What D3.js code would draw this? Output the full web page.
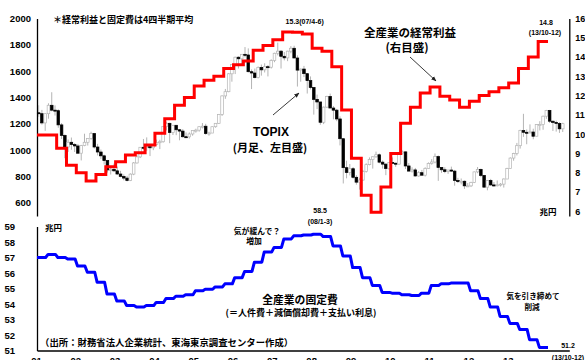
<!DOCTYPE html>
<html><head><meta charset="utf-8">
<script src="https://cdn.jsdelivr.net/npm/d3@7"></script>
<style>
body{margin:0;background:#fff;}
svg{display:block;}
text{font-family:"Noto Sans CJK JP","Liberation Sans",sans-serif;font-weight:700;fill:#000;}
.num{font-family:"Liberation Sans",Arial,sans-serif;font-weight:700;}
</style></head><body>
<svg id="chart" width="585" height="360"></svg>
<script>
// ---- data -------------------------------------------------------------
// x-axis labels (year starts, 2001-2013)
const yearLabels = ["01","02","03","04","05","06","07","08","09","10","11","12","13"];

// quarters 2001 Q1 .. 2013 Q4
const quarters = [];
["01","02","03","04","05","06","07","08","09","10","11","12","13"].forEach(y => ["1-3","4-6","7-9","10-12"].forEach(q => quarters.push(y + "/" + q)));

// all-industry ordinary profit, 4-quarter average (trillion yen, right scale)
const profit = [
  9.95, 9.95, 9.27, 8.39,   8.00, 7.57, 7.91, 8.30,   8.56, 8.91, 9.03, 9.43,
  10.04, 10.80, 11.50, 11.90,  12.50, 12.80, 13.00, 13.40,  13.60, 13.80, 14.35, 14.60,
  14.90, 15.30, 15.28, 15.20,  14.45, 14.30, 13.50, 11.25,  8.75, 6.83, 5.95, 7.25,
  9.00, 10.57, 11.40, 12.13,  12.45, 11.97, 11.77, 11.40,  11.70, 12.00, 12.20, 12.40,
  12.65, 13.40, 14.00, 14.80
];

// all-industry fixed costs, 4-quarter average (trillion yen)
const fixedCost = [
  57.00, 57.20, 57.00, 56.90,  56.45, 56.05, 55.40, 54.65,  54.20, 53.90, 53.80, 53.90,
  54.10, 54.35, 54.50, 54.60,  54.85, 54.95, 55.10, 55.30,  55.70, 56.10, 56.70, 57.35,
  57.65, 58.20, 58.40, 58.45,  58.50, 58.35, 57.75, 57.10,  56.35, 55.70, 55.20, 54.75,
  54.70, 54.60, 54.55, 54.70,  55.20, 55.30, 55.35, 55.35,  54.85, 54.35, 53.80, 53.20,
  52.75, 52.35, 51.70, 51.20
];

// TOPIX monthly candles, Jan 2001 .. May 2014
const topixOpen = [
  1284,1277,1207,1277,1341,1304,1300,1192,1112,1024,1060,1043,
  1032, 977,1035,1060,1088,1126,1024, 986, 957, 921, 850, 854,
   843, 819, 801, 788, 770, 818, 903, 949,1022,1019,1027,1018,
  1044,1057,1064,1179,1204,1134,1189,1155,1145,1102,1101,1123,
  1150,1152,1178,1182,1126,1130,1178,1204,1272,1412,1444,1580,
  1650,1706,1694,1728,1723,1596,1586,1551,1628,1610,1634,1630,
  1681,1736,1752,1713,1701,1752,1774,1700,1608,1616,1581,1528,
  1476,1386,1366,1212,1327,1408,1320,1304,1237,1087, 867, 830,
   859, 794, 757, 773, 838, 890, 929, 950, 965, 909, 894, 860,
   907, 901, 894, 978, 987, 880, 841, 850, 804, 829, 810, 861,
   899, 910, 951, 869, 851, 838, 849, 841, 770, 761, 764, 729,
   729, 755, 835, 854, 808, 719, 770, 736, 731, 737, 742, 781,
   860, 940, 975,1034,1149,1136,1133,1138,1106,1194,1194,1258,
  1302,1220,1211,1203,1162
];
const topixHigh = [
  1341,1306,1280,1356,1440,1340,1310,1206,1120,1081,1096,1054,
  1047,1040,1125,1090,1140,1131,1048,1005, 966, 926, 873, 898,
   875, 843, 816, 805, 824, 910, 963,1023,1085,1097,1035,1047,
  1080,1079,1180,1217,1208,1190,1190,1160,1160,1135,1135,1150,
  1163,1181,1206,1200,1140,1180,1205,1275,1415,1465,1585,1650,
  1710,1713,1730,1783,1773,1613,1620,1636,1650,1660,1646,1690,
  1740,1817,1760,1745,1755,1790,1793,1720,1620,1640,1585,1560,
  1480,1422,1368,1331,1413,1430,1335,1313,1257,1087, 920, 895,
   872, 810, 790, 850, 900, 945, 952, 989, 975, 922, 900, 910,
   945, 905, 980, 998, 990, 902, 870, 865, 840, 850, 870, 907,
   932, 975, 960, 871, 870, 850, 875, 850, 790, 785, 770, 750,
   760, 837, 872, 860, 812, 773, 782, 758, 770, 750, 785, 866,
   945, 980,1055,1155,1276,1157,1196,1163,1195,1220,1262,1306,
  1306,1225,1225,1212,1208
];
const topixLow = [
  1253,1194,1147,1239,1295,1263,1170,1085, 939, 987,1003, 986,
   972, 922,1030,1035,1079,1012, 960, 934, 891, 830, 815, 836,
   811, 794, 771, 763, 765, 810, 898, 940,1004, 995, 955,1000,
  1035,1008,1057,1150,1053,1115,1114,1075,1095,1095,1088,1110,
  1133,1140,1165,1117,1110,1130,1171,1200,1260,1390,1440,1520,
  1578,1620,1640,1705,1590,1464,1545,1545,1566,1590,1560,1620,
  1668,1720,1620,1682,1676,1736,1700,1483,1520,1555,1430,1461,
  1270,1312,1193,1198,1320,1320,1234,1220,1036, 747, 786, 808,
   784, 738, 700, 768, 830, 885, 860, 942, 900, 860, 810, 850,
   899, 873, 889, 965, 857, 840, 830, 800, 799, 806, 800, 860,
   890, 900, 767, 828, 825, 820, 835, 730, 750, 740, 706, 720,
   720, 750, 825, 795, 719, 695, 729, 721, 725, 724, 716, 780,
   860, 920, 960,1012,1101,1045,1131,1083,1105,1150,1155,1238,
  1206,1146,1141,1131,1138
];
const topixClose = [
  1277,1207,1277,1341,1304,1300,1192,1112,1024,1060,1043,1032,
   977,1035,1060,1088,1126,1024, 986, 957, 921, 850, 854, 843,
   819, 801, 788, 770, 818, 903, 949,1022,1019,1027,1018,1044,
  1057,1064,1179,1204,1134,1189,1155,1145,1102,1101,1123,1150,
  1152,1178,1182,1126,1130,1178,1204,1272,1412,1444,1580,1650,
  1706,1694,1728,1723,1596,1586,1551,1628,1610,1634,1630,1681,
  1736,1752,1713,1701,1752,1774,1700,1608,1616,1581,1528,1476,
  1386,1366,1212,1327,1408,1320,1304,1237,1087, 867, 830, 859,
   794, 757, 773, 838, 890, 929, 950, 965, 909, 894, 860, 907,
   901, 894, 978, 987, 880, 841, 850, 804, 829, 810, 861, 899,
   910, 951, 869, 851, 838, 849, 841, 770, 761, 764, 729, 729,
   755, 835, 854, 808, 719, 770, 736, 731, 737, 742, 781, 860,
   940, 975,1034,1149,1136,1133,1138,1106,1194,1194,1258,1302,
  1220,1211,1203,1162,1201
];

// axis ticks
const topixTicks = [600, 800, 1000, 1200, 1400, 1600, 1800, 2000];
const profitTicks = [6, 7, 8, 9, 10, 11, 12, 13, 14, 15, 16];
const costTicks = [51, 52, 53, 54, 55, 56, 57, 58, 59];

// ---- scales -----------------------------------------------------------
const svg = d3.select("#chart");
const MONTH = 511 / 156;                 // px per month
const x = d3.scaleLinear().domain([0, 162.5]).range([37, 37 + 162.5 * MONTH]);
const yTopix = d3.scaleLinear().domain([500, 2000]).range([216, 18.5]);
const yProfit = d3.scaleLinear().domain([5.75, 16]).range([216, 18.5]);
const yCost = d3.scaleLinear().domain([51, 59]).range([350.5, 226.5]);

// ---- axes -------------------------------------------------------------
function styleAxis(size) {
  return g => {
    g.selectAll("path.domain").attr("stroke", "#000").attr("stroke-width", 1.3);
    g.selectAll("text").attr("class", "num").attr("font-size", size).attr("fill", "#000");
  };
}
svg.append("g").attr("transform", "translate(37,0)")
  .call(d3.axisLeft(yTopix).tickValues(topixTicks).tickSize(0).tickPadding(6).tickFormat(d3.format("d")))
  .call(styleAxis(9.5));
svg.append("g").attr("transform", `translate(${x(162.5)},0)`)
  .call(d3.axisRight(yProfit).tickValues(profitTicks).tickSize(0).tickPadding(6).tickFormat(d3.format("d")))
  .call(styleAxis(9));
svg.append("g").attr("transform", "translate(37,0)")
  .call(d3.axisLeft(yCost).tickValues(costTicks).tickSize(0).tickPadding(22).tickFormat(d3.format("d")))
  .call(styleAxis(9.5));
svg.append("g").attr("transform", `translate(0,${yCost(51)})`)
  .call(d3.axisBottom(x).tickValues(yearLabels.map((d, i) => i * 12)).tickSize(0).tickPadding(7)
    .tickFormat((d, i) => yearLabels[i]))
  .call(styleAxis(9.5))
  .call(g => g.selectAll("text").attr("dx", -1));

// ---- TOPIX candles ----------------------------------------------------
const candles = topixOpen.map((o, i) => ({i, o, h: topixHigh[i], l: topixLow[i], c: topixClose[i]}));
const cg = svg.append("g");
cg.selectAll("line.wick").data(candles).join("line")
  .attr("x1", d => x(d.i + 0.5)).attr("x2", d => x(d.i + 0.5))
  .attr("y1", d => yTopix(d.h)).attr("y2", d => yTopix(d.l))
  .attr("stroke", "#b4b4b4").attr("stroke-width", 1);
const bw = MONTH * 0.8;
cg.selectAll("rect.body").data(candles).join("rect")
  .attr("x", d => x(d.i + 0.5) - bw / 2).attr("width", bw)
  .attr("y", d => yTopix(Math.max(d.o, d.c)))
  .attr("height", d => Math.max(1, Math.abs(yTopix(d.o) - yTopix(d.c))))
  .attr("fill", d => d.c < d.o ? "#000" : "#fff")
  .attr("stroke", d => d.c < d.o ? "#000" : "#b4b4b4")
  .attr("stroke-width", 0.7);

// ---- profit line (step) -----------------------------------------------
const profitPts = profit.map((v, k) => [x(3 * k), yProfit(v)]);
profitPts.push([x(156), yProfit(profit[profit.length - 1])]);
svg.append("path").attr("d", d3.line().curve(d3.curveStepAfter)(profitPts))
  .attr("fill", "none").attr("stroke", "#ff0000").attr("stroke-width", 3);

// ---- fixed-cost line (quarterly plateaus, short slanted risers) --------
const gap = 1.2;
const costPts = [];
fixedCost.forEach((v, k) => {
  costPts.push([x(3 * k) + (k ? gap : 0), yCost(v)]);
  costPts.push([x(3 * k + 3) - (k < fixedCost.length - 1 ? gap : 0), yCost(v)]);
});
svg.append("path").attr("d", d3.line()(costPts))
  .attr("fill", "none").attr("stroke", "#0000ff").attr("stroke-width", 3).attr("stroke-linejoin", "round");

// ---- annotations ------------------------------------------------------
function label(txt, px, py, size, anchor, cls) {
  return svg.append("text").attr("x", px).attr("y", py).attr("font-size", size)
    .attr("text-anchor", anchor || "start").attr("class", cls || null).text(txt);
}
label("＊経常利益と固定費は4四半期平均", 53, 23, 9);

const peakK = 25;
label(`${profit[peakK].toFixed(1)}(${quarters[peakK]})`, x(3 * peakK) + 22, 23.5, 7, "middle", "num");
const lastK = profit.length - 1;
label(profit[lastK].toFixed(1), x(3 * lastK + 3) - 2, 25, 7, "middle", "num");
label(`(${quarters[lastK]})`, x(3 * lastK + 3) - 3, 35, 7, "middle", "num");

label("全産業の経常利益", 410, 36.5, 11.5, "middle");
label("(右目盛)", 407, 51.5, 11.5, "middle");
label("TOPIX", 271, 136, 12, "middle", "num");
label("(月足、左目盛)", 270, 152, 11, "middle");
label("兆円", 548, 215, 8.5, "middle");
label("兆円", 45, 231, 8.5);

const costPeakK = 28;
label(fixedCost[costPeakK].toFixed(1), x(3 * costPeakK + 1.5) + 3, 213, 7, "middle", "num");
label(`(${quarters[costPeakK]})`, x(3 * costPeakK + 1.5) + 3, 223.5, 7, "middle", "num");
label("気が緩んで？", 257, 233.5, 7.8, "middle");
label("増加", 254, 243.5, 7.8, "middle");
label("全産業の固定費", 300, 303.5, 10.8, "middle");
label("(＝人件費＋減価償却費＋支払い利息)", 301, 315.5, 9, "middle");
label("（出所：財務省法人企業統計、東海東京調査センター作成）", 40, 346, 9.4);
label("気を引き締めて", 533, 299, 7.6, "middle");
label("削減", 532, 310, 7.6, "middle");
label(fixedCost[lastK].toFixed(1), 568, 347.5, 7, "middle", "num");
label(`(${quarters[lastK]})`, 568, 360, 7, "middle", "num");

// arrows
const defs = svg.append("defs");
defs.append("marker").attr("id", "ah").attr("viewBox", "0 0 10 10").attr("refX", 9).attr("refY", 5)
  .attr("markerWidth", 6).attr("markerHeight", 6).attr("orient", "auto")
  .append("path").attr("d", "M0,1 L10,5 L0,9 Z").attr("fill", "#222");
svg.append("line").attr("x1", 273).attr("y1", 115).attr("x2", 299).attr("y2", 93)
  .attr("stroke", "#222").attr("stroke-width", 0.9).attr("marker-end", "url(#ah)");
svg.append("line").attr("x1", 410).attr("y1", 57).attr("x2", 436).attr("y2", 81)
  .attr("stroke", "#222").attr("stroke-width", 0.9).attr("marker-end", "url(#ah)");
</script>
</body></html>
